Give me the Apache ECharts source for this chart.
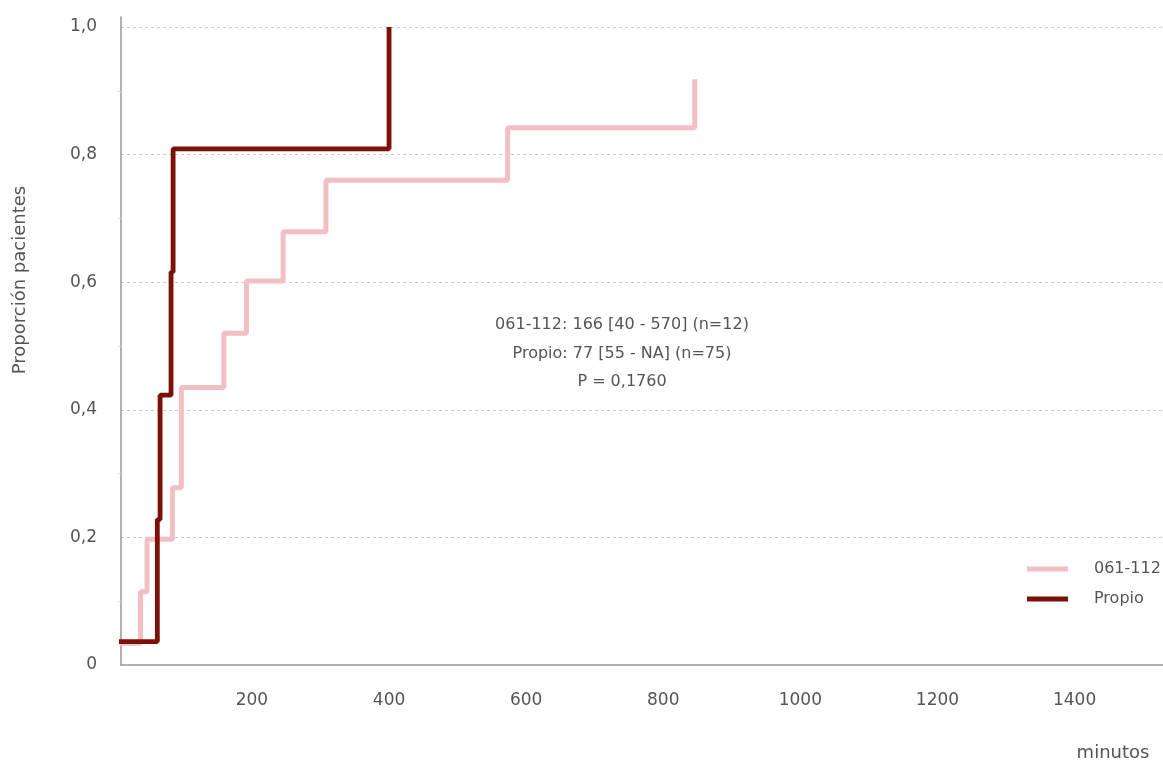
<!DOCTYPE html>
<html><head><meta charset="utf-8">
<script src="https://cdn.jsdelivr.net/npm/echarts@6/dist/echarts.min.js"></script>
<style>html,body{margin:0;padding:0;background:#fff}#c{width:1163px;height:763px}</style>
</head><body><div id="c"></div>
<script>
// Series 061-112 (time in minutes, cumulative proportion)
const t061 = [7, 37.5, 47, 84, 97, 159, 192, 245.5, 308, 573, 846];
const p061 = [0.034, 0.115, 0.197, 0.278, 0.435, 0.52, 0.602, 0.679, 0.76, 0.842, 0.918];
// Series Propio
const tPropio = [6, 62, 66, 82, 85, 400];
const pPropio = [0.0365, 0.228, 0.423, 0.616, 0.809, 1.0];
const xTicks = [200, 400, 600, 800, 1000, 1200, 1400];
const yTicks = [0, 0.2, 0.4, 0.6, 0.8, 1.0];
const seriesNames = ['061-112', 'Propio'];
const annotation = ['061-112: 166 [40 - 570] (n=12)', 'Propio: 77 [55 - NA] (n=75)', 'P = 0,1760'];

const FONT = 'DejaVu Sans';
const TXT = '#555';
const chart = echarts.init(document.getElementById('c'), null, {renderer: 'canvas'});
chart.setOption({
  animation: false,
  backgroundColor: '#fff',
  textStyle: {fontFamily: FONT},
  grid: {left: 121, right: 0, top: 17, bottom: 98},
  xAxis: {
    type: 'value', min: 9, max: 1529,
    axisLine: {show: true, lineStyle: {color: '#999', width: 1.5}},
    axisTick: {show: false},
    splitLine: {show: false},
    axisLabel: {customValues: xTicks, color: TXT, fontSize: 17, margin: 27, fontFamily: FONT,
      formatter: v => String(v)}
  },
  yAxis: {
    type: 'value', min: 0, max: 1.0157, interval: 0.2,
    axisLine: {show: true, lineStyle: {color: '#999', width: 1.5}},
    axisTick: {show: false},
    minorTick: {show: true, splitNumber: 2, length: 3, lineStyle: {color: '#ddd'}},
    splitLine: {show: true, showMinLine: false, showMaxLine: false, lineStyle: {color: '#ccc', type: [3, 3], width: 1}},
    axisLabel: {
      showMaxLabel: false, color: TXT, fontSize: 17, margin: 24, fontFamily: FONT,
      formatter: v => {
        const hit = yTicks.find(t => Math.abs(t - v) < 1e-6);
        if (hit === undefined) return '';
        return hit === 0 ? '0' : hit.toFixed(1).replace('.', ',');
      }
    }
  },
  legend: {
    orient: 'vertical', left: 1027, top: 561, padding: 0, itemWidth: 41, itemHeight: 5, itemGap: 14,
    icon: 'rect',
    textStyle: {color: TXT, fontSize: 16, padding: [0, 0, 0, 21], fontFamily: FONT},
    data: seriesNames
  },
  series: [
    {name: seriesNames[0], type: 'line', step: 'end', showSymbol: false, clip: false,
     color: '#f2bfc4', lineStyle: {width: 5, color: '#f2bfc4'},
     data: t061.map((t, i) => [t, p061[i]])},
    {name: seriesNames[1], type: 'line', step: 'end', showSymbol: false, clip: false,
     color: '#7b1209', lineStyle: {width: 4.8, color: '#7b1209'},
     data: tPropio.map((t, i) => [t, pPropio[i]])}
  ],
  graphic: [
    {type: 'text', x: 20, y: 280, rotation: Math.PI/2,
     style: {text: 'Proporción pacientes', fontSize: 18, fill: TXT, fontFamily: FONT, textAlign: 'center', textVerticalAlign: 'middle'}},
    {type: 'text', x: 1113, y: 753,
     style: {text: 'minutos', fontSize: 18, fill: TXT, fontFamily: FONT, textAlign: 'center', textVerticalAlign: 'middle'}}
  ].concat(annotation.map((s, i) => ({
    type: 'text', x: 622, y: 325 + i * 28.5,
    style: {text: s, fontSize: 16, fill: TXT, fontFamily: FONT, textAlign: 'center', textVerticalAlign: 'middle'}
  })))
});
</script></body></html>
